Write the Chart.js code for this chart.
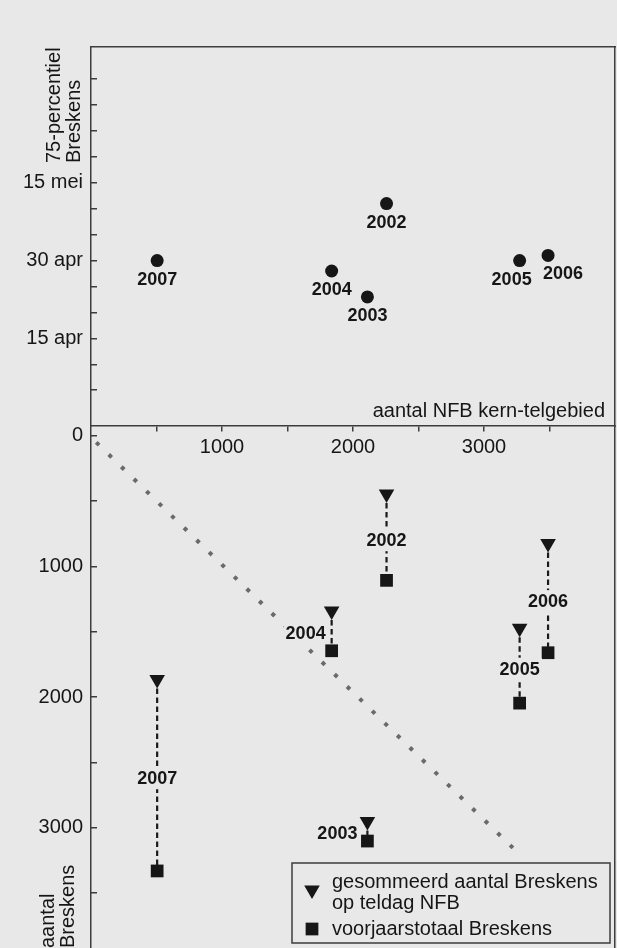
<!DOCTYPE html>
<html>
<head>
<meta charset="utf-8">
<title>Breskens / NFB</title>
<script src="https://cdn.jsdelivr.net/npm/chart.js@4.4.1/dist/chart.umd.min.js"></script>
<style>
  body { margin: 0; background: #e8e8e8; }
  #wrap { position: relative; width: 617px; height: 948px; overflow: hidden; }
  canvas { position: absolute; left: 0; }
  #topChart { top: 0; }
  #bottomChart { top: 420px; }
</style>
</head>
<body>
<div id="wrap">
  <canvas id="topChart" width="617" height="428"></canvas>
  <canvas id="bottomChart" width="617" height="528"></canvas>
</div>
<script>
// values
const years = ['2002', '2003', '2004', '2005', '2006', '2007'];
// aantal NFB kern-telgebied
const nfbCount = [2256, 2110, 1837, 3272, 3489, 505];
// 75-percentiel Breskens, day of year (120 = 30 apr)
const p75Day = [131, 113, 118, 120, 121, 120];
// gesommeerd aantal Breskens op teldag NFB
const summedCount = [445, 2953, 1340, 1472, 824, 1865];
// voorjaarstotaal Breskens
const springTotal = [1106, 3102, 1645, 2046, 1660, 3331];
// dotted reference line
const refX = [40, 3290];
const refY = [49, 3222];

const dayTicks = [95, 100, 105, 110, 115, 120, 125, 130, 135, 140, 145, 150, 155];
const dayLabels = { 105: '15 apr', 120: '30 apr', 135: '15 mei' };
const xTicks = [500, 1000, 1500, 2000, 2500, 3000, 3500];
const countTicks = [0, 500, 1000, 1500, 2000, 2500, 3000, 3500];
const shownCounts = [0, 1000, 2000, 3000];

const legendLines = [['gesommeerd aantal Breskens', 'op teldag NFB'], ['voorjaarstotaal Breskens']];

const FONT = '"Liberation Sans", Arial, Helvetica, sans-serif';
const ink = '#161616';
const axisGrey = '#3c3c3c';
const paper = '#e8e8e8';

Chart.defaults.font.family = FONT;
Chart.defaults.font.size = 20;
Chart.defaults.color = ink;
Chart.defaults.animation = false;
Chart.defaults.plugins.legend.display = false;
Chart.defaults.plugins.tooltip.enabled = false;

function noPad(s) {
  s.paddingTop = 0; s.paddingBottom = 0; s.paddingLeft = 0; s.paddingRight = 0;
}

// an axis that only draws its border line (used for the frame)
function frameAxis(position, size) {
  return {
    type: 'linear', position: position, min: 0, max: 1,
    ticks: { display: false },
    grid: { display: false },
    border: { color: axisGrey, width: 1.5 },
    afterFit: s => { noPad(s); if (position === 'top') s.height = size; else s.width = size; }
  };
}

function yearLabels(place) {
  return {
    id: 'yearLabels',
    afterDatasetsDraw(chart) {
      const ctx = chart.ctx;
      ctx.save();
      ctx.font = 'bold 18px ' + FONT;
      ctx.textBaseline = 'middle';
      years.forEach((yr, i) => {
        const p = place(chart, i);
        const w = ctx.measureText(yr).width;
        const left = p.align === 'right' ? p.x - w : p.x - w / 2;
        ctx.fillStyle = paper;
        ctx.fillRect(left - 2, p.y - 11, w + 4, 22);
        ctx.textAlign = p.align;
        ctx.fillStyle = ink;
        ctx.fillText(yr, p.x, p.y + 1);
      });
      ctx.restore();
    }
  };
}

function upText(ctx, lines, x, y, gap) {
  ctx.save();
  ctx.translate(x, y);
  ctx.rotate(-Math.PI / 2);
  ctx.textAlign = 'left';
  ctx.textBaseline = 'middle';
  lines.forEach((t, i) => ctx.fillText(t, 0, i * gap));
  ctx.restore();
}

// ---- top panel: 75-percentiel date ----
const topShift = { '2005': -8, '2006': 15 };

new Chart(document.getElementById('topChart'), {
  type: 'scatter',
  data: {
    datasets: [{
      data: years.map((_, i) => ({ x: nfbCount[i], y: p75Day[i] })),
      pointRadius: 6.5,
      pointBackgroundColor: ink,
      backgroundColor: ink,
      pointBorderWidth: 0
    }]
  },
  options: {
    responsive: false,
    layout: { autoPadding: false, padding: { bottom: 2 } },
    scales: {
      x: { type: 'linear', min: 0, max: 4000, display: false },
      y: {
        min: 88.1, max: 161.2,
        afterBuildTicks: s => { s.ticks = dayTicks.map(v => ({ value: v })); },
        afterFit: s => { noPad(s); s.width = 91; },
        ticks: { autoSkip: false, padding: 14, color: ink, callback: v => dayLabels[v] || '' },
        grid: { drawOnChartArea: false, tickLength: -6, color: axisGrey, lineWidth: 1.5 },
        border: { color: axisGrey, width: 1.5 }
      },
      xTop: frameAxis('top', 47),
      yRight: frameAxis('right', 2)
    }
  },
  plugins: [
    yearLabels((chart, i) => ({
      x: chart.scales.x.getPixelForValue(nfbCount[i]) + (topShift[years[i]] || 0),
      y: chart.scales.y.getPixelForValue(p75Day[i]) + 18,
      align: 'center'
    })),
    {
      id: 'notes',
      afterDraw(chart) {
        const { ctx, chartArea } = chart;
        ctx.save();
        ctx.font = '20px ' + FONT;
        ctx.fillStyle = ink;
        upText(ctx, ['75-percentiel', 'Breskens'], chartArea.left - 36.5, chartArea.top + 116, 20);
        ctx.textAlign = 'right';
        ctx.textBaseline = 'middle';
        ctx.fillText('aantal NFB kern-telgebied', chartArea.right - 10, chartArea.bottom - 15);
        ctx.restore();
      }
    }
  ]
});

// ---- bottom panel: counts Breskens ----
const links = [];
years.forEach((_, i) => {
  links.push({ x: nfbCount[i], y: summedCount[i] }, { x: nfbCount[i], y: springTotal[i] }, { x: nfbCount[i], y: null });
});
const sideShift = { '2004': -6, '2003': -10 };

new Chart(document.getElementById('bottomChart'), {
  type: 'scatter',
  data: {
    datasets: [
      {
        label: 'gesommeerd aantal Breskens op teldag NFB',
        data: years.map((_, i) => ({ x: nfbCount[i], y: summedCount[i] })),
        pointStyle: 'triangle', pointRotation: 180, pointRadius: 9,
        pointBackgroundColor: ink, backgroundColor: ink, pointBorderWidth: 0
      },
      {
        label: 'voorjaarstotaal Breskens',
        data: years.map((_, i) => ({ x: nfbCount[i], y: springTotal[i] })),
        pointStyle: 'rect', pointRadius: 9,
        pointBackgroundColor: ink, backgroundColor: ink, pointBorderWidth: 0
      },
      {
        data: links, showLine: true, pointRadius: 0,
        borderColor: '#1a1a1a', borderWidth: 2.2, borderDash: [5.5, 3.5]
      },
      {
        data: refX.map((v, i) => ({ x: v, y: refY[i] })), showLine: true, pointRadius: 0,
        borderColor: '#6a6a6a', borderWidth: 4, borderDash: [4, 13.5]
      }
    ]
  },
  options: {
    responsive: false,
    layout: { autoPadding: false, padding: { top: 6 } },
    scales: {
      x: {
        type: 'linear', min: 0, max: 4000, position: { y: -76 },
        afterBuildTicks: s => { s.ticks = xTicks.map(v => ({ value: v })); },
        afterFit: noPad,
        ticks: { autoSkip: false, maxRotation: 0, padding: 4, color: ink, callback: v => (v % 1000 === 0 ? String(v) : '') },
        grid: { drawOnChartArea: false, tickLength: 5, color: axisGrey, lineWidth: 1.5 },
        border: { color: axisGrey, width: 1.5 }
      },
      y: {
        reverse: true, min: -76, max: 3921,
        afterBuildTicks: s => { s.ticks = countTicks.map(v => ({ value: v })); },
        afterFit: s => { noPad(s); s.width = 91; },
        ticks: { autoSkip: false, padding: 14, color: ink, callback: v => (shownCounts.includes(v) ? String(v) : '') },
        grid: { drawOnChartArea: false, tickLength: -6, color: axisGrey, lineWidth: 1.5 },
        border: { color: axisGrey, width: 1.5 }
      },
      yRight: frameAxis('right', 2)
    }
  },
  plugins: [
    yearLabels((chart, i) => {
      const px = chart.scales.x.getPixelForValue(nfbCount[i]);
      const py = (chart.scales.y.getPixelForValue(summedCount[i]) + chart.scales.y.getPixelForValue(springTotal[i])) / 2;
      const side = sideShift[years[i]];
      return side ? { x: px + side, y: py + 2, align: 'right' } : { x: px, y: py + 3, align: 'center' };
    }),
    {
      id: 'notesAndLegend',
      afterDraw(chart) {
        const { ctx, chartArea } = chart;
        ctx.save();
        ctx.font = '20px ' + FONT;
        ctx.fillStyle = ink;
        upText(ctx, ['aantal', 'Breskens'], chartArea.left - 43, chartArea.bottom, 20);

        // legend box
        const right = chartArea.right - 5, bottom = chartArea.bottom - 5;
        const left = right - 318, top = bottom - 80;
        ctx.fillStyle = paper;
        ctx.fillRect(left, top, right - left, bottom - top);
        ctx.strokeStyle = axisGrey;
        ctx.lineWidth = 1.5;
        ctx.strokeRect(left, top, right - left, bottom - top);

        ctx.fillStyle = ink;
        const r = 9, tx = left + 20, ty = top + 27;
        ctx.beginPath();
        ctx.moveTo(tx, ty + r);
        ctx.lineTo(tx - r * 0.866, ty - r / 2);
        ctx.lineTo(tx + r * 0.866, ty - r / 2);
        ctx.closePath();
        ctx.fill();
        const side = r * Math.SQRT2;
        ctx.fillRect(tx - side / 2, top + 66 - side / 2, side, side);

        ctx.textAlign = 'left';
        ctx.textBaseline = 'middle';
        ctx.fillText(legendLines[0][0], left + 40, top + 19);
        ctx.fillText(legendLines[0][1], left + 40, top + 40);
        ctx.fillText(legendLines[1][0], left + 40, top + 66);
        ctx.restore();
      }
    }
  ]
});
</script>
</body>
</html>
